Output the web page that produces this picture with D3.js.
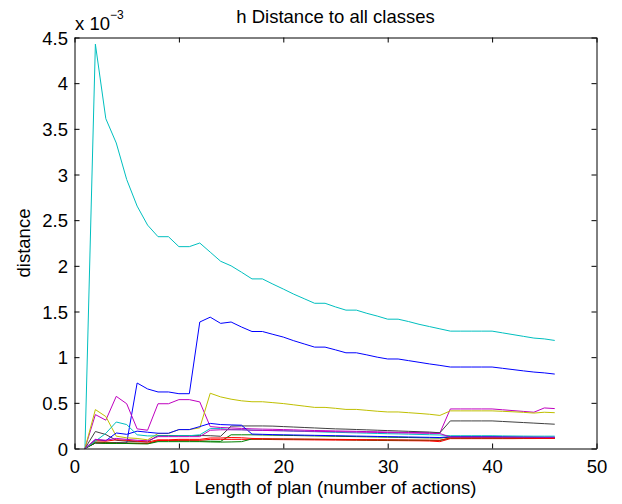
<!DOCTYPE html>
<html><head><meta charset="utf-8">
<script src="https://cdn.jsdelivr.net/npm/d3@7"></script>
<style>
body{margin:0;background:#fff}
svg{display:block}
text{font-family:"Liberation Sans",Arial,Helvetica,sans-serif}
</style>
</head><body>
<svg id="chart" width="622" height="504"></svg>
<script>
// ---- data (values in units of 1e-3) ----
const xValues = d3.range(1, 47); // plan length 1..46

const blue1 = [0,0.06,0.06,0.065,0.06,0.717,0.652,0.619,0.619,0.60,0.60,1.385,1.438,1.37,1.385,1.33,1.281,1.281,1.25,1.22,1.18,1.145,1.11,1.11,1.08,1.048,1.048,1.025,1.0,0.98,0.98,0.962,0.944,0.926,0.91,0.892,0.892,0.892,0.892,0.892,0.878,0.864,0.85,0.837,0.828,0.815];
const green1 = [0,0.07,0.065,0.062,0.06,0.058,0.055,0.085,0.085,0.085,0.085,0.082,0.08,0.078,0.15,0.15,0.15,0.148,0.146,0.144,0.142,0.14,0.138,0.136,0.134,0.132,0.13,0.128,0.126,0.124,0.122,0.12,0.118,0.116,0.114,0.125,0.125,0.125,0.125,0.125,0.124,0.123,0.122,0.121,0.12,0.12];
const red1 = [0,0.062,0.058,0.058,0.057,0.056,0.055,0.087,0.088,0.09,0.09,0.09,0.1,0.1,0.1,0.1,0.1,0.1,0.098,0.097,0.096,0.095,0.094,0.093,0.092,0.091,0.09,0.089,0.088,0.087,0.086,0.085,0.084,0.082,0.075,0.108,0.108,0.108,0.108,0.108,0.108,0.108,0.109,0.109,0.11,0.11];
const cyan1 = [0,4.427,3.611,3.345,2.945,2.654,2.446,2.319,2.319,2.21,2.21,2.25,2.15,2.05,2.0,1.93,1.857,1.857,1.80,1.746,1.69,1.64,1.59,1.59,1.55,1.515,1.515,1.48,1.45,1.416,1.416,1.39,1.36,1.335,1.31,1.285,1.285,1.285,1.285,1.285,1.266,1.247,1.228,1.209,1.20,1.183];
const magenta1 = [0,0.371,0.31,0.571,0.49,0.215,0.20,0.49,0.49,0.535,0.535,0.51,0.24,0.23,0.225,0.22,0.215,0.212,0.21,0.207,0.204,0.2,0.197,0.195,0.192,0.19,0.188,0.185,0.183,0.18,0.178,0.176,0.174,0.172,0.17,0.433,0.433,0.433,0.433,0.433,0.424,0.415,0.406,0.397,0.444,0.437];
const yellow1 = [0,0.426,0.35,0.135,0.117,0.11,0.095,0.164,0.164,0.207,0.207,0.226,0.605,0.565,0.54,0.522,0.512,0.512,0.502,0.492,0.478,0.464,0.45,0.45,0.44,0.428,0.428,0.418,0.408,0.40,0.40,0.392,0.384,0.375,0.362,0.412,0.412,0.412,0.412,0.412,0.407,0.402,0.396,0.388,0.397,0.392];
const gray1 = [0,0.186,0.153,0.09,0.08,0.075,0.072,0.142,0.142,0.142,0.142,0.142,0.14,0.134,0.245,0.247,0.247,0.247,0.245,0.24,0.235,0.23,0.225,0.22,0.215,0.212,0.208,0.204,0.2,0.196,0.192,0.188,0.184,0.18,0.172,0.302,0.302,0.302,0.302,0.302,0.296,0.29,0.284,0.278,0.272,0.266];
const blue2 = [0,0.098,0.085,0.17,0.155,0.19,0.178,0.167,0.167,0.207,0.207,0.24,0.275,0.262,0.258,0.255,0.158,0.155,0.152,0.15,0.148,0.146,0.144,0.142,0.14,0.138,0.136,0.134,0.132,0.13,0.128,0.126,0.124,0.122,0.12,0.13,0.13,0.13,0.13,0.13,0.13,0.128,0.127,0.126,0.125,0.125];
const green2 = [0,0.06,0.055,0.055,0.055,0.052,0.05,0.075,0.075,0.075,0.075,0.075,0.072,0.07,0.072,0.075,0.105,0.105,0.104,0.103,0.102,0.101,0.1,0.099,0.098,0.097,0.096,0.095,0.094,0.093,0.092,0.091,0.09,0.089,0.088,0.115,0.115,0.115,0.115,0.115,0.114,0.114,0.113,0.113,0.112,0.112];
const red2 = [0,0.085,0.08,0.095,0.09,0.08,0.07,0.095,0.095,0.1,0.1,0.1,0.115,0.115,0.12,0.118,0.11,0.108,0.106,0.105,0.104,0.103,0.102,0.101,0.1,0.099,0.098,0.097,0.096,0.095,0.094,0.093,0.092,0.091,0.09,0.115,0.115,0.115,0.115,0.115,0.114,0.113,0.112,0.11,0.11,0.11];
const cyan2 = [0,0.08,0.166,0.29,0.262,0.15,0.138,0.138,0.138,0.14,0.14,0.15,0.218,0.218,0.207,0.205,0.2,0.198,0.196,0.194,0.19,0.187,0.184,0.18,0.177,0.174,0.171,0.168,0.165,0.162,0.16,0.157,0.154,0.151,0.148,0.14,0.14,0.14,0.14,0.14,0.138,0.137,0.136,0.135,0.135,0.135];
const magenta2 = [0,0.1,0.09,0.11,0.1,0.09,0.085,0.13,0.13,0.13,0.13,0.13,0.2,0.205,0.205,0.205,0.2,0.198,0.196,0.194,0.192,0.19,0.188,0.186,0.184,0.182,0.18,0.178,0.176,0.174,0.172,0.17,0.168,0.166,0.164,0.125,0.125,0.125,0.125,0.125,0.124,0.124,0.123,0.123,0.122,0.122];

const seriesValues = [blue1, green1, red1, cyan1, magenta1, yellow1, gray1, blue2, green2, red2, cyan2, magenta2];
const seriesColors = ["#0000ff","#008000","#ff0000","#00bfbf","#bf00bf","#bfbf00","#404040","#0000ff","#008000","#ff0000","#00bfbf","#bf00bf"];

const xTicks = [0,10,20,30,40,50];
const yTicks = [0,0.5,1,1.5,2,2.5,3,3.5,4,4.5];
const yTickLabels = ["0","0.5","1","1.5","2","2.5","3","3.5","4","4.5"];

const titleText = "h Distance to all classes";
const xLabel = "Length of plan (number of actions)";
const yLabel = "distance";

// ---- layout ----
const svg = d3.select("#chart");
const L = 74.5, R = 596.5, T = 37.5, B = 448.5;
const FS = 18.5;

const x = d3.scaleLinear().domain([0, 50]).range([L, R]);
const y = d3.scaleLinear().domain([0, 4.5]).range([B, T]);

// lines
const line = d3.line().x((d, i) => x(xValues[i])).y(d => y(d));
const g = svg.append("g");
seriesValues.forEach((vals, k) => {
  g.append("path").datum(vals)
    .attr("d", line)
    .attr("fill", "none")
    .attr("stroke", seriesColors[k])
    .attr("stroke-width", 1)
    .attr("stroke-linejoin", "round");
});

// axes
const fmtY = d => yTickLabels[yTicks.indexOf(d)];
const axB = svg.append("g").attr("transform", `translate(0,${B})`)
  .call(d3.axisBottom(x).tickValues(xTicks).tickSizeInner(-5).tickSizeOuter(0).tickPadding(11).tickFormat(d3.format("d")));
const axT = svg.append("g").attr("transform", `translate(0,${T})`)
  .call(d3.axisTop(x).tickValues(xTicks).tickSizeInner(-5).tickSizeOuter(0).tickFormat(""));
const axL = svg.append("g").attr("transform", `translate(${L},0)`)
  .call(d3.axisLeft(y).tickValues(yTicks).tickSizeInner(-5).tickSizeOuter(0).tickPadding(6.5).tickFormat(fmtY));
const axR = svg.append("g").attr("transform", `translate(${R},0)`)
  .call(d3.axisRight(y).tickValues(yTicks).tickSizeInner(-5).tickSizeOuter(0).tickFormat(""));

[axB, axT, axL, axR].forEach(a => {
  a.selectAll("text").style("font-size", FS + "px").attr("fill", "#000")
   .style("font-family", '"Liberation Sans",Arial,sans-serif');
  a.selectAll("line,path").attr("stroke", "#000");
});
axL.selectAll("text").attr("dy", "0.36em");

// titles
svg.append("text").attr("x", (L + R) / 2).attr("y", 22.5)
  .attr("text-anchor", "middle").style("font-size", FS + "px").text(titleText);
svg.append("text").attr("x", (L + R) / 2).attr("y", 494)
  .attr("text-anchor", "middle").style("font-size", FS + "px").text(xLabel);
svg.append("text").attr("transform", `translate(30,${(T + B) / 2}) rotate(-90)`)
  .attr("text-anchor", "middle").style("font-size", FS + "px").text(yLabel);

const ex = svg.append("text").attr("x", 75).attr("y", 29.5).style("font-size", FS + "px");
ex.append("tspan").text("x 10");
ex.append("tspan").attr("dy", -11).style("font-size", "12px").text("\u22123");
</script>
</body></html>
